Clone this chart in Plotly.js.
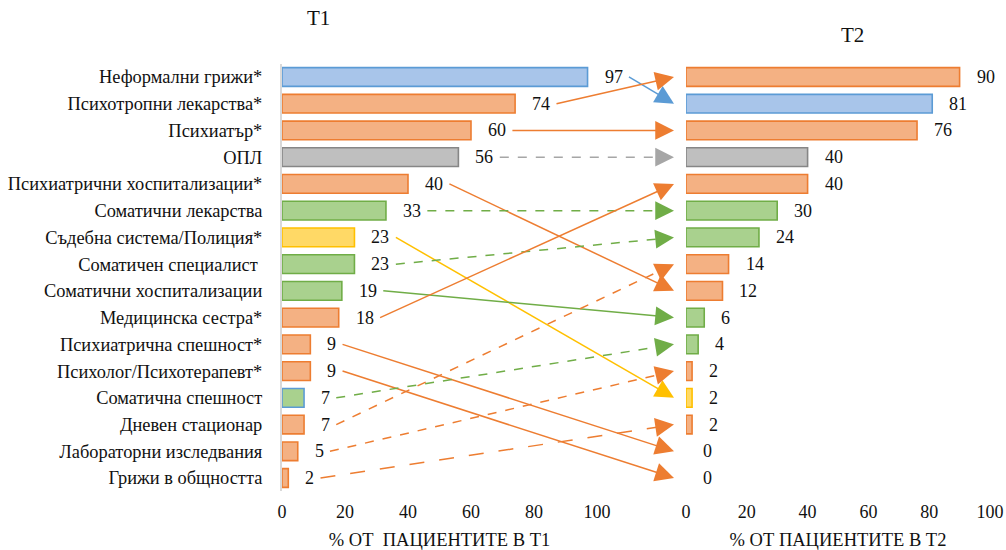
<!DOCTYPE html>
<html>
<head>
<meta charset="utf-8">
<script src="https://cdn.plot.ly/plotly-3.0.1.min.js"></script>
</head>
<body style="margin:0">
<div id="chart" style="width:1006px;height:550px"></div>
<script>
// Service categories, ordered as at T1
const categories = [
  'Неформални грижи*',
  'Психотропни лекарства*',
  'Психиатър*',
  'ОПЛ',
  'Психиатрични хоспитализации*',
  'Соматични лекарства',
  'Съдебна система/Полиция*',
  'Соматичен специалист\u00a0',
  'Соматични хоспитализации',
  'Медицинска сестра*',
  'Психиатрична спешност*',
  'Психолог/Психотерапевт*',
  'Соматична спешност',
  'Дневен стационар',
  'Лабораторни изследвания',
  'Грижи в общността'
];

// % of patients at T1 (same order as categories)
const t1Values = [97, 74, 60, 56, 40, 33, 23, 23, 19, 18, 9, 9, 7, 7, 5, 2];
const t1Groups = ['blue', 'orange', 'orange', 'gray', 'orange', 'green', 'yellow', 'green',
                  'green', 'orange', 'orange', 'orange', 'green', 'orange', 'orange', 'orange'];
const t1Edges  = ['blue', 'orange', 'orange', 'gray', 'orange', 'green', 'yellow', 'green',
                  'green', 'orange', 'orange', 'orange', 'blue', 'orange', 'orange', 'orange'];

// % of patients at T2, ranked top to bottom
const t2Values = [90, 81, 76, 40, 40, 30, 24, 14, 12, 6, 4, 2, 2, 2, 0, 0];
const t2Groups = ['orange', 'blue', 'orange', 'gray', 'orange', 'green', 'green', 'orange',
                  'orange', 'green', 'green', 'orange', 'yellow', 'orange', 'orange', 'orange'];

// For each T1 category: the T2 row it moves to, and the dash style of its arrow
const t2Targets = [1, 0, 2, 3, 8, 5, 12, 6, 9, 4, 14, 15, 10, 7, 11, 13];
const linkDash  = ['solid', 'solid', 'solid', 'dash', 'solid', 'dash', 'solid', 'dash',
                   'solid', 'solid', 'solid', 'solid', 'dash', 'dash', 'dash', 'longdash'];

const axisTicks = [0, 20, 40, 60, 80, 100];

const PALETTE = {
  blue:   { fill: '#a8c5ea', line: '#5b9bd5' },
  orange: { fill: '#f4b183', line: '#ed7d31' },
  gray:   { fill: '#bfbfbf', line: '#868686', link: '#a6a6a6' },
  green:  { fill: '#a9d18e', line: '#70ad47' },
  yellow: { fill: '#ffd966', line: '#ffc000' }
};

const W = 1006, H = 550;
const FONT_FAMILY = 'Liberation Serif';

const rowDomain = [1 - 491.4 / H, 1 - 63.6 / H];
const rowRange = [categories.length - 0.5, -0.5];

const xaxis  = { domain: [282 / W, 597 / W], range: [0, 100] };
const xaxis2 = { domain: [686 / W, 990 / W], range: [0, 100] };
const yaxis  = { domain: rowDomain, range: rowRange };
const yaxis2 = { domain: rowDomain, range: rowRange };

// Axis value -> page pixel, using the axis domain and range
function toPx(v, ax) {
  const f = ax.domain[0] + (v - ax.range[0]) / (ax.range[1] - ax.range[0]) * (ax.domain[1] - ax.domain[0]);
  return f * W;
}
function toPy(v, ax) {
  const f = ax.domain[0] + (v - ax.range[0]) / (ax.range[1] - ax.range[0]) * (ax.domain[1] - ax.domain[0]);
  return (1 - f) * H;
}

const traces = [];
const annotations = [];

// T1 bars
traces.push({
  type: 'bar', orientation: 'h',
  x: t1Values, y: categories,
  xaxis: 'x', yaxis: 'y',
  marker: {
    color: t1Groups.map(g => PALETTE[g].fill),
    line: { color: t1Edges.map(g => PALETTE[g].line), width: t1Values.map(v => v > 0 ? 1.6 : 0) }
  },
  hoverinfo: 'skip', showlegend: false
});

// T2 bars
const t2Rows = t2Values.map((_, i) => i);
traces.push({
  type: 'bar', orientation: 'h',
  x: t2Values, y: t2Rows,
  xaxis: 'x2', yaxis: 'y2',
  marker: {
    color: t2Groups.map(g => PALETTE[g].fill),
    line: { color: t2Groups.map(g => PALETTE[g].line), width: t2Values.map(v => v > 0 ? 1.6 : 0) }
  },
  hoverinfo: 'skip', showlegend: false
});

const valueFont = { family: FONT_FAMILY, size: 18, color: '#111' };

// Value labels
t1Values.forEach((v, i) => {
  annotations.push({
    xref: 'x', yref: 'y', x: v, y: categories[i],
    text: String(v), showarrow: false,
    xanchor: 'left', yanchor: 'middle', xshift: 15, font: valueFont
  });
});
t2Values.forEach((v, i) => {
  annotations.push({
    xref: 'x2', yref: 'y2', x: v, y: i,
    text: String(v), showarrow: false,
    xanchor: 'left', yanchor: 'middle', xshift: 15, font: valueFont
  });
});

// Arrows linking each category's T1 position to its T2 position
const HEAD = 15;
t1Values.forEach((v, i) => {
  const group = t1Groups[i];
  const color = PALETTE[group].link || PALETTE[group].line;
  const sx = toPx(v, xaxis) + 15 + String(v).length * 9.2 + 8;
  const sy = toPy(i, yaxis);
  const tx = toPx(0, xaxis2) - 12;
  const ty = toPy(t2Targets[i], yaxis2);
  const len = Math.hypot(tx - sx, ty - sy);
  const ux = (tx - sx) / len, uy = (ty - sy) / len;

  traces.push({
    type: 'scatter', mode: 'lines',
    x: [sx, tx - ux * 8], y: [sy, ty - uy * 8],
    xaxis: 'x3', yaxis: 'y3',
    line: { color: color, width: 1.5, dash: linkDash[i] },
    hoverinfo: 'skip', showlegend: false
  });

  annotations.push({
    xref: 'x3', yref: 'y3', axref: 'x3', ayref: 'y3',
    x: tx, y: ty, ax: tx - ux * HEAD, ay: ty - uy * HEAD,
    text: '', showarrow: true,
    arrowhead: 2, arrowsize: 2.5, arrowwidth: 1.5, arrowcolor: color, standoff: 0
  });
});

// Panel titles
annotations.push({
  xref: 'paper', yref: 'paper', x: 318 / W, y: 1 - 18 / H,
  text: 'T1', showarrow: false, xanchor: 'center', yanchor: 'middle',
  font: { family: FONT_FAMILY, size: 21, color: '#111' }
});
annotations.push({
  xref: 'paper', yref: 'paper', x: 852 / W, y: 1 - 35 / H,
  text: 'T2', showarrow: false, xanchor: 'center', yanchor: 'middle',
  font: { family: FONT_FAMILY, size: 21, color: '#111' }
});

const tickFont = { family: FONT_FAMILY, size: 18, color: '#111' };
const axisTitleFont = { family: FONT_FAMILY, size: 18.5, color: '#111' };

const valueAxis = (base, title, anchor) => Object.assign({}, base, {
  anchor: anchor,
  tickvals: axisTicks, ticktext: axisTicks.map(String),
  tickfont: tickFont, ticks: '', ticklabelstandoff: 8,
  showgrid: false, zeroline: false, showline: false,
  fixedrange: true,
  title: { text: title, font: axisTitleFont, standoff: 17 }
});

const layout = {
  width: W, height: H,
  margin: { l: 0, r: 0, t: 0, b: 0, pad: 0 },
  paper_bgcolor: '#ffffff',
  plot_bgcolor: 'rgba(0,0,0,0)',
  bargap: 0.3,
  showlegend: false,
  xaxis: valueAxis(xaxis, '% ОТ\u00a0 ПАЦИЕНТИТЕ В Т1', 'y'),
  xaxis2: valueAxis(xaxis2, '% ОТ ПАЦИЕНТИТЕ В Т2', 'y2'),
  yaxis: Object.assign({}, yaxis, {
    anchor: 'x', type: 'category',
    categoryorder: 'array', categoryarray: categories,
    tickfont: { family: FONT_FAMILY, size: 18.4, color: '#111' },
    ticks: '', ticklabelstandoff: 14,
    showline: true, linecolor: '#d9d9d9', linewidth: 2,
    showgrid: false, zeroline: false, fixedrange: true
  }),
  yaxis2: Object.assign({}, yaxis2, {
    anchor: 'x2', showticklabels: false, ticks: '',
    showline: false, showgrid: false, zeroline: false, fixedrange: true
  }),
  xaxis3: { domain: [0, 1], range: [0, W], anchor: 'y3', visible: false, fixedrange: true },
  yaxis3: { domain: [0, 1], range: [H, 0], anchor: 'x3', visible: false, fixedrange: true },
  annotations: annotations
};

Plotly.newPlot('chart', traces, layout, { displayModeBar: false });
</script>
</body>
</html>
